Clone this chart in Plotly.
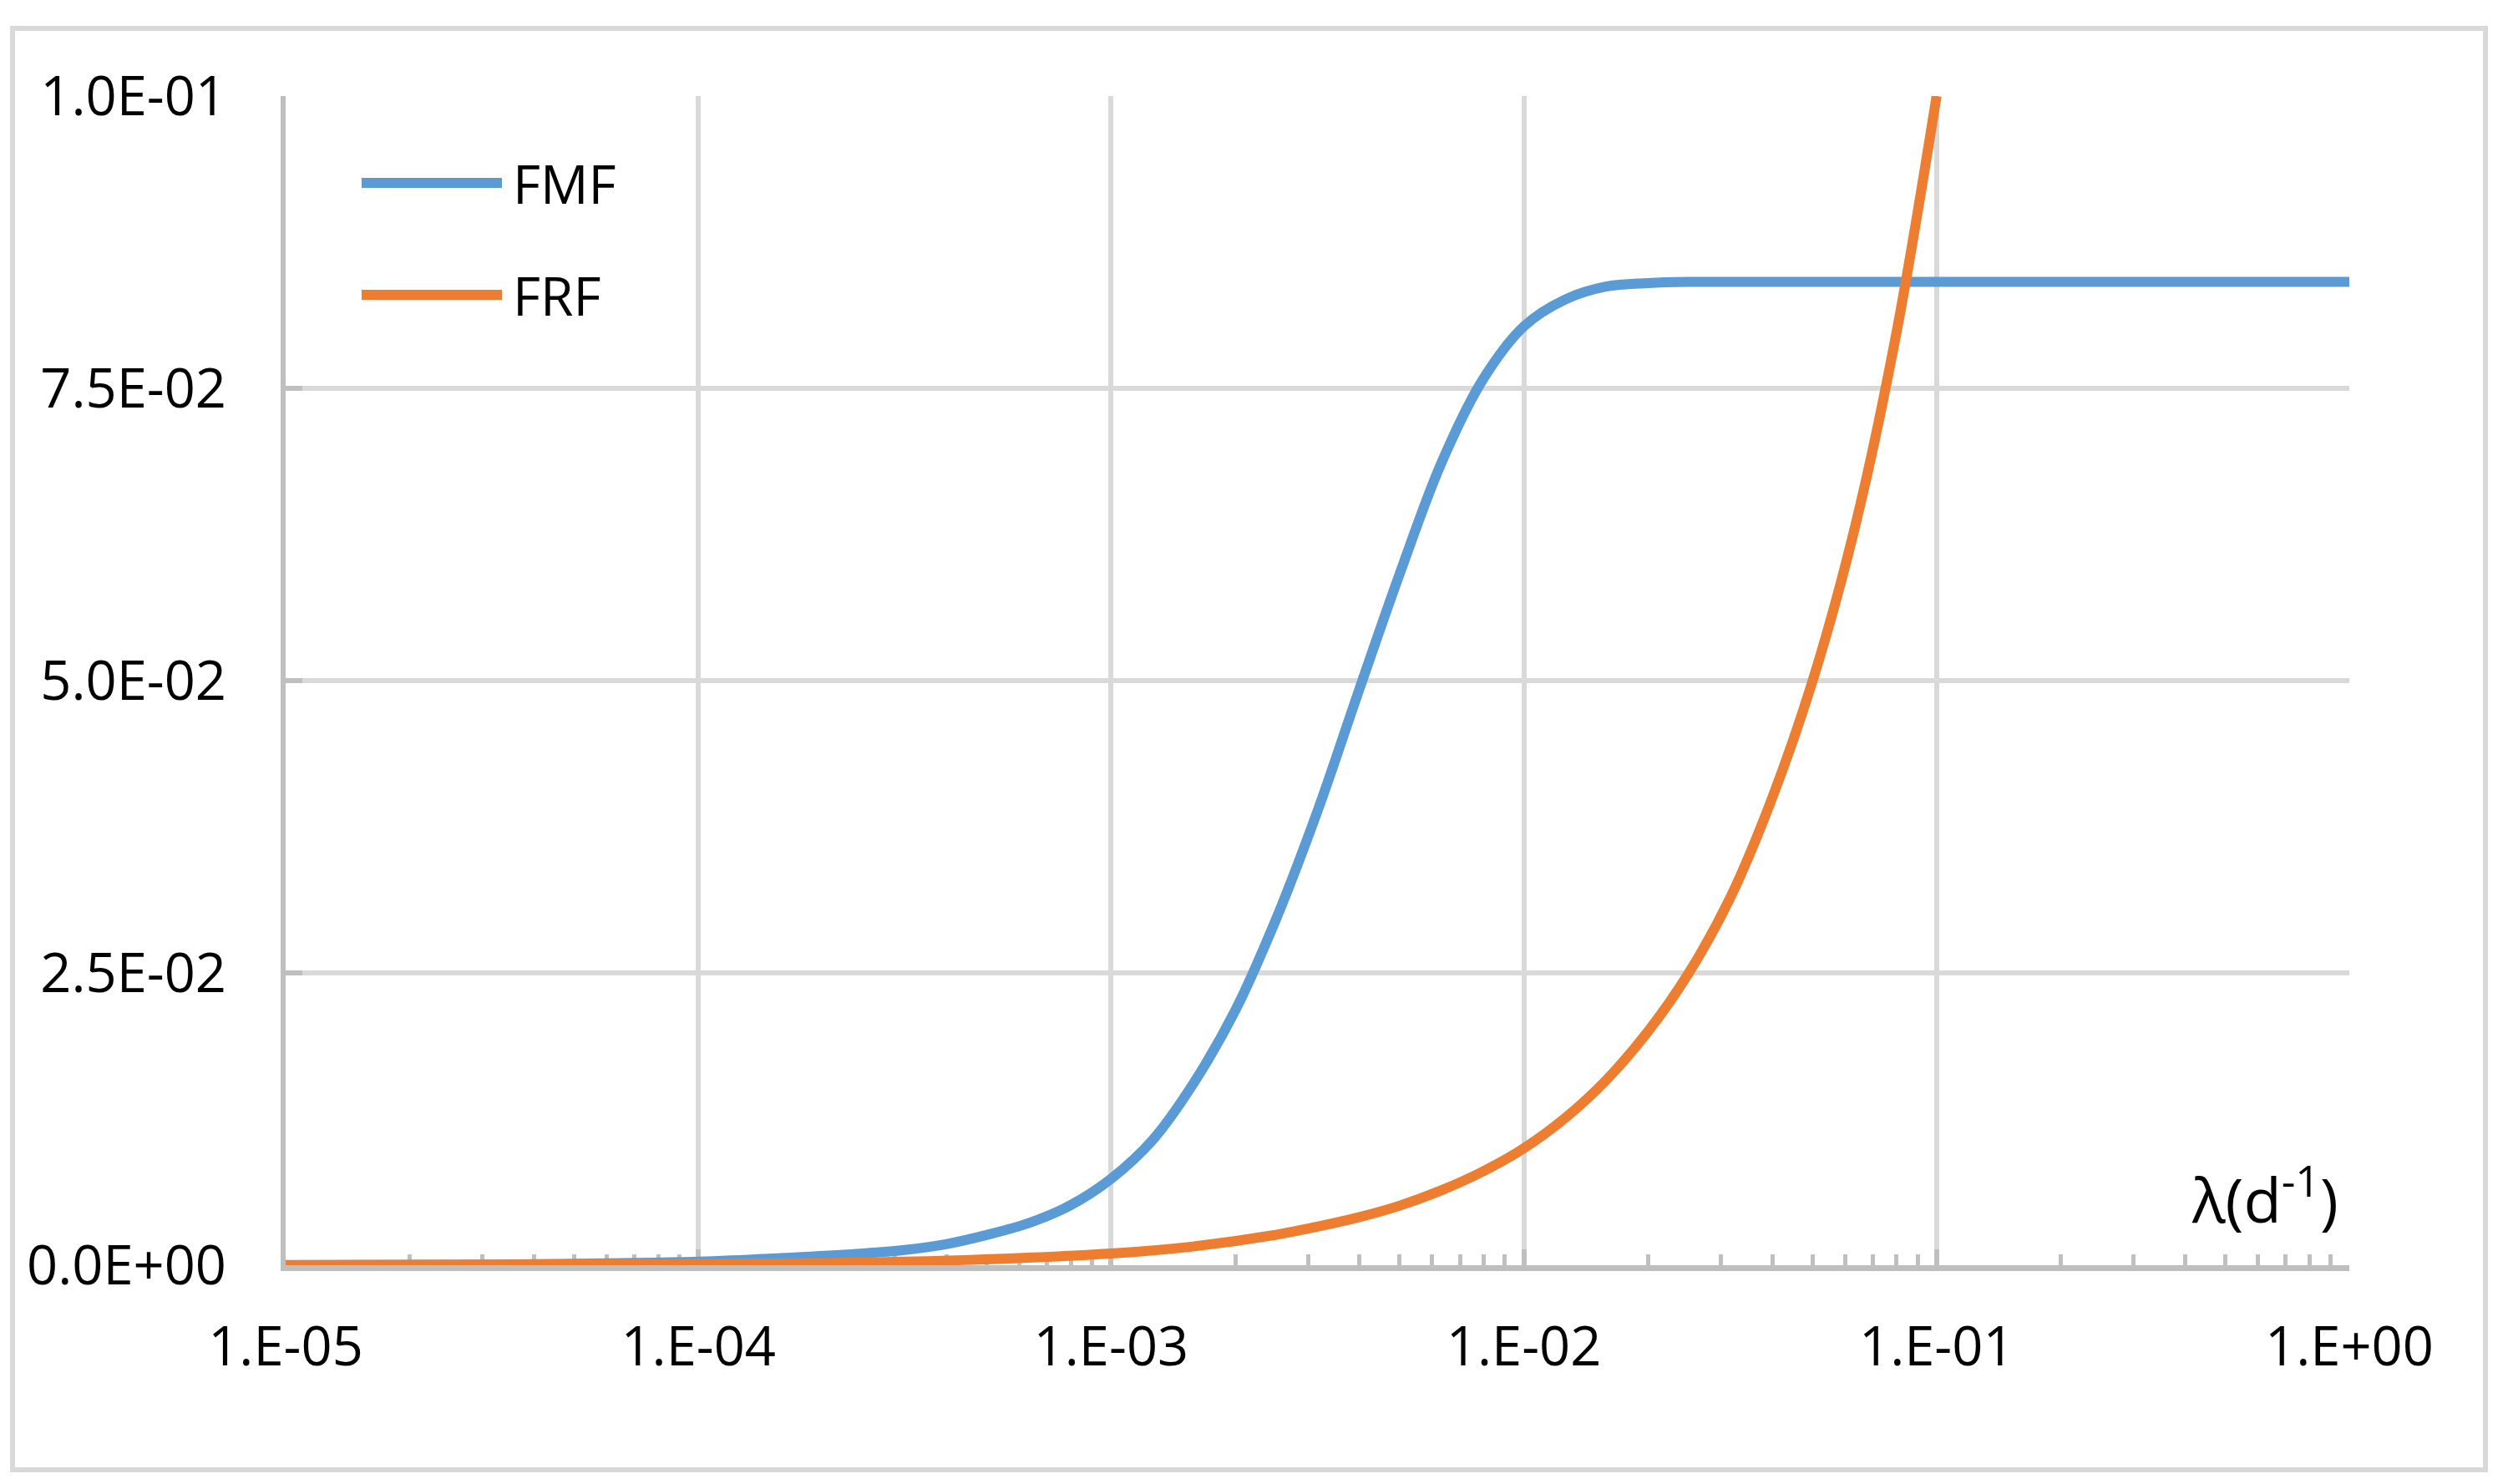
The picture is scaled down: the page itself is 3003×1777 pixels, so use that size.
import plotly.graph_objects as go

# ---- data ----
lam_fmf = [1.0e-5, 3.16e-5, 1.0e-4, 1.58e-4, 2.51e-4, 3.16e-4, 3.98e-4, 5.01e-4,
           6.31e-4, 7.94e-4, 1.0e-3, 1.26e-3, 1.58e-3, 2.0e-3, 2.51e-3, 3.16e-3,
           3.98e-3, 5.01e-3, 6.31e-3, 7.94e-3, 1.0e-2, 1.26e-2, 1.58e-2, 2.0e-2,
           2.51e-2, 3.16e-2, 1.0e-1, 1.0]
fmf = [0.0, 0.00005, 0.0003, 0.0006, 0.0010, 0.0013, 0.0018, 0.0026,
       0.0036, 0.0051, 0.0074, 0.0107, 0.0155, 0.0218, 0.0296, 0.0388,
       0.0491, 0.0592, 0.0686, 0.0757, 0.0803, 0.0826, 0.0837, 0.0840,
       0.0841, 0.0841, 0.0841, 0.0841]

lam_frf = [1.0e-5, 1.0e-4, 3.16e-4, 1.0e-3, 1.58e-3, 2.51e-3, 3.16e-3, 3.98e-3,
           5.01e-3, 6.31e-3, 7.94e-3, 1.0e-2, 1.26e-2, 1.58e-2, 2.0e-2, 2.51e-2,
           3.16e-2, 3.98e-2, 5.01e-2, 6.31e-2, 7.94e-2, 1.0e-1]
frf = [0.00001, 0.0001, 0.0003, 0.0010, 0.0016, 0.0026, 0.0033, 0.0041,
       0.0051, 0.0064, 0.0080, 0.0100, 0.0126, 0.0158, 0.0200, 0.0250,
       0.0314, 0.0398, 0.0500, 0.0628, 0.0792, 0.1000]

series_names = ["FMF", "FRF"]
x_tick_vals = [1e-5, 1e-4, 1e-3, 1e-2, 1e-1, 1.0]
x_tick_text = ["1.E-05", "1.E-04", "1.E-03", "1.E-02", "1.E-01", "1.E+00"]
y_tick_vals = [0.0, 0.025, 0.05, 0.075, 0.1]
y_tick_text = ["0.0E+00", "2.5E-02", "5.0E-02", "7.5E-02", "1.0E-01"]
x_label = "λ(d<sup>-1</sup>)"

# ---- styling ----
FONT = "Open Sans"
BLUE = "#5B9BD5"
ORANGE = "#ED7D31"
GRID = "#D9D9D9"
AXIS = "#BFBFBF"

# the page body adds an 8px offset, so the figure is 8px smaller
W, H = 2995, 1769
L, R, T, B = 334, 190, 107, 262
PW, PH = W - L - R, H - T - B
# plot area in reference (screen) pixels
X0_REF, Y0_REF = 342, 1515


def px(xp):
    return (xp - X0_REF) / PW


def py(yp):
    return (Y0_REF - yp) / PH


fig = go.Figure()
fig.add_trace(go.Scatter(x=lam_fmf, y=fmf, mode="lines", name=series_names[0],
                         line=dict(color=BLUE, width=12, shape="spline", smoothing=1.0),
                         showlegend=False))
fig.add_trace(go.Scatter(x=lam_frf, y=frf, mode="lines", name=series_names[1],
                         line=dict(color=ORANGE, width=12, shape="spline", smoothing=1.0),
                         showlegend=False))

shapes = [
    # outer chart border
    dict(type="rect", xref="paper", yref="paper", x0=px(15), x1=px(2976),
         y0=py(1760), y1=py(34), line=dict(color=GRID, width=6), layer="below"),
    # legend lines
    dict(type="line", xref="paper", yref="paper", x0=px(433), x1=px(601),
         y0=py(219), y1=py(219), line=dict(color=BLUE, width=12)),
    dict(type="line", xref="paper", yref="paper", x0=px(433), x1=px(601),
         y0=py(353), y1=py(353), line=dict(color=ORANGE, width=12)),
]

annotations = [
    dict(text=series_names[0], xref="paper", yref="paper", x=px(612), y=py(219),
         xanchor="left", yanchor="middle", showarrow=False,
         font=dict(family=FONT, size=64, color="black")),
    dict(text=series_names[1], xref="paper", yref="paper", x=px(612), y=py(353),
         xanchor="left", yanchor="middle", showarrow=False,
         font=dict(family=FONT, size=64, color="black")),
    dict(text=x_label, xref="paper", yref="paper", x=px(2802), y=py(1432),
         xanchor="right", yanchor="middle", showarrow=False,
         font=dict(family=FONT, size=74, color="black")),
]

fig.update_layout(
    width=W, height=H,
    margin=dict(l=L, r=R, t=T, b=B, pad=0),
    paper_bgcolor="white", plot_bgcolor="white",
    shapes=shapes, annotations=annotations,
    font=dict(family=FONT, color="black"),
)

fig.update_xaxes(
    type="log", range=[-5, 0],
    tickmode="array", tickvals=x_tick_vals, ticktext=x_tick_text,
    tickfont=dict(family=FONT, size=65, color="black"),
    showgrid=True, gridcolor=GRID, gridwidth=6,
    showline=True, linecolor=AXIS, linewidth=7,
    ticks="inside", ticklen=19, tickwidth=6, tickcolor=AXIS,
    minor=dict(ticks="inside", ticklen=13, tickwidth=5, tickcolor=AXIS,
               showgrid=False, dtick="D1"),
    ticklabelstandoff=35,
    zeroline=False, layer="below traces",
)

fig.update_yaxes(
    range=[0, 0.1],
    tickmode="array", tickvals=y_tick_vals, ticktext=y_tick_text,
    tickfont=dict(family=FONT, size=65, color="black"),
    showgrid=True, gridcolor=GRID, gridwidth=6,
    showline=True, linecolor=AXIS, linewidth=6,
    ticks="inside", ticklen=20, tickwidth=6, tickcolor=AXIS,
    ticklabelstandoff=52,
    zeroline=False, layer="below traces",
)

fig.write_html("out.html")
